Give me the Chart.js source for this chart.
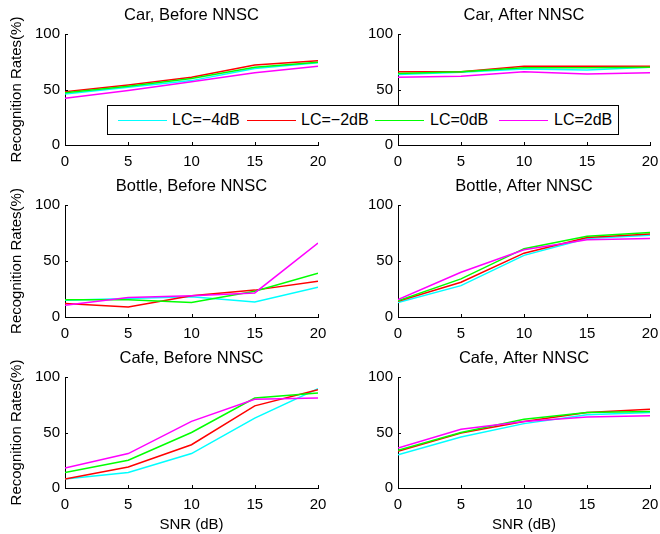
<!DOCTYPE html>
<html>
<head>
<meta charset="utf-8">
<script src="https://cdn.jsdelivr.net/npm/chart.js@4.4.0/dist/chart.umd.min.js"></script>
<style>
    body { margin: 0; background: #fff; }
    #wrap { position: relative; width: 660px; height: 534px; font-family: 'Liberation Sans', Arial, Helvetica, sans-serif; }
    canvas { position: absolute; }
    #legend { position: absolute; left: 107px; top: 105px; width: 510px; height: 28px; border: 1px solid #000; background: #fff; z-index: 5; }
    .swatch { position: absolute; top: 14px; width: 49px; height: 0; border-top: 1.5px solid; }
    .ltext { position: absolute; top: 4px; font-size: 16px; line-height: 20px; color: #000; white-space: nowrap; }
</style>
</head>
<body>
<div id="wrap">
    <canvas id="c0" width="330" height="170" style="left:0;top:0"></canvas>
    <canvas id="c1" width="330" height="170" style="left:330px;top:0"></canvas>
    <canvas id="c2" width="330" height="171" style="left:0;top:171px"></canvas>
    <canvas id="c3" width="330" height="171" style="left:330px;top:171px"></canvas>
    <canvas id="c4" width="330" height="191" style="left:0;top:343px"></canvas>
    <canvas id="c5" width="330" height="191" style="left:330px;top:343px"></canvas>
    <div id="legend"></div>
</div>
<script>
// SNR values on the x axis
const snr = [0, 5, 10, 15, 20];
const lcLabels = ['LC=\u22124dB', 'LC=\u22122dB', 'LC=0dB', 'LC=2dB'];
const yTicks = [0, 50, 100];

// Car
const carBeforeM4 = [46, 52, 58, 69, 74];
const carBeforeM2 = [48, 54, 61, 72, 76];
const carBefore0 = [47, 53, 60, 70, 74.5];
const carBefore2 = [42, 49, 57, 65, 71];

const carAfterM4 = [63.5, 65.5, 68.5, 67.5, 70];
const carAfterM2 = [66, 66, 71, 71, 71];
const carAfter0 = [64.5, 66, 69.5, 69.5, 70];
const carAfter2 = [61, 62, 66, 64, 65];

// Bottle
const bottleBeforeM4 = [15, 16.5, 18, 13.5, 26.5];
const bottleBeforeM2 = [12, 9, 19, 24, 32];
const bottleBefore0 = [15.5, 15.5, 13, 23, 39];
const bottleBefore2 = [10.5, 17.5, 19, 21.5, 66];

const bottleAfterM4 = [13, 28, 55, 70, 73];
const bottleAfterM2 = [14, 31, 57, 71, 74];
const bottleAfter0 = [14.5, 34, 61, 72, 75.5];
const bottleAfter2 = [15.5, 40, 60, 69, 70];

// Cafe
const cafeBeforeM4 = [8, 14, 31, 63, 89.5];
const cafeBeforeM2 = [8, 19, 39, 74, 88.5];
const cafeBefore0 = [14, 25, 50, 81, 85.5];
const cafeBefore2 = [18, 31, 60, 80, 81];

const cafeAfterM4 = [30, 46, 58, 66, 68];
const cafeAfterM2 = [33, 49.5, 60, 68, 71];
const cafeAfter0 = [34, 50, 62, 68, 69];
const cafeAfter2 = [36, 53, 60, 64, 65];

const lineColors = ['#00ffff', '#ff0000', '#00ff00', '#ff00ff'];
const FONT = "'Liberation Sans', Arial, Helvetica, sans-serif";

// MATLAB style inward tick marks + subplot title centred over the axes
const matlabAxes = {
    id: 'matlabAxes',
    afterDraw(chart, args, opts) {
        const ctx = chart.ctx;
        const area = chart.chartArea;
        const xs = chart.scales.x;
        const ys = chart.scales.y;
        ctx.save();
        ctx.strokeStyle = '#000';
        ctx.lineWidth = 1;
        ctx.beginPath();
        snr.forEach(v => {
            const px = Math.round(xs.getPixelForValue(v)) + 0.5;
            ctx.moveTo(px, area.bottom);
            ctx.lineTo(px, area.bottom - 3);
        });
        yTicks.forEach(v => {
            const py = Math.round(ys.getPixelForValue(v)) + 0.5;
            ctx.moveTo(area.left, py);
            ctx.lineTo(area.left + 3, py);
        });
        ctx.stroke();

        ctx.fillStyle = '#000';
        ctx.font = '16.5px ' + FONT;
        ctx.textAlign = 'center';
        ctx.textBaseline = 'middle';
        ctx.fillText(opts.text, (area.left + area.right) / 2, area.top - 18.5);
        ctx.restore();
    }
};

function makePanel(id, title, series, leftCol, bottomRow) {
    const xHeight = bottomRow ? 46 : 25;
    const yWidth = leftCol ? 65 : 68;
    new Chart(document.getElementById(id), {
        type: 'line',
        data: {
            datasets: series.map((vals, i) => ({
                label: lcLabels[i],
                data: vals.map((v, j) => ({ x: snr[j], y: v })),
                borderColor: lineColors[i],
                backgroundColor: lineColors[i],
                borderWidth: 1.5,
                pointRadius: 0,
                tension: 0,
                fill: false,
                order: 4 - i
            }))
        },
        options: {
            responsive: false,
            animation: false,
            layout: { padding: { left: 0, right: leftCol ? 12 : 10, top: 34, bottom: 0 } },
            plugins: {
                legend: { display: false },
                tooltip: { enabled: false },
                title: { display: false },
                matlabAxes: { text: title }
            },
            scales: {
                x: {
                    type: 'linear',
                    min: 0,
                    max: 20,
                    ticks: {
                        stepSize: 5,
                        padding: 8,
                        color: '#000',
                        maxRotation: 0,
                        autoSkip: false,
                        font: { family: FONT, size: 15 }
                    },
                    grid: { display: false, drawTicks: false },
                    border: { display: true, color: '#000', width: 1 },
                    title: {
                        display: bottomRow,
                        text: 'SNR (dB)',
                        color: '#000',
                        font: { family: FONT, size: 15 },
                        padding: { top: 0, bottom: 0 }
                    },
                    afterFit: s => {
                        s.height = xHeight;
                        s.paddingLeft = 0;
                        s.paddingRight = 0;
                    }
                },
                y: {
                    min: 0,
                    max: 100,
                    ticks: {
                        stepSize: 50,
                        padding: 5,
                        color: '#000',
                        font: { family: FONT, size: 15 }
                    },
                    grid: { display: false, drawTicks: false },
                    border: { display: true, color: '#000', width: 1 },
                    title: {
                        display: leftCol,
                        text: 'Recognition Rates(%)',
                        color: '#000',
                        font: { family: FONT, size: 15 },
                        padding: { top: 8, bottom: 0 }
                    },
                    afterFit: s => { s.width = yWidth; }
                }
            }
        },
        plugins: [matlabAxes]
    });
}

makePanel('c0', 'Car, Before NNSC', [carBeforeM4, carBeforeM2, carBefore0, carBefore2], true, false);
makePanel('c1', 'Car, After NNSC', [carAfterM4, carAfterM2, carAfter0, carAfter2], false, false);
makePanel('c2', 'Bottle, Before NNSC', [bottleBeforeM4, bottleBeforeM2, bottleBefore0, bottleBefore2], true, false);
makePanel('c3', 'Bottle, After NNSC', [bottleAfterM4, bottleAfterM2, bottleAfter0, bottleAfter2], false, false);
makePanel('c4', 'Cafe, Before NNSC', [cafeBeforeM4, cafeBeforeM2, cafeBefore0, cafeBefore2], true, true);
makePanel('c5', 'Cafe, After NNSC', [cafeAfterM4, cafeAfterM2, cafeAfter0, cafeAfter2], false, true);

// shared legend drawn over the top row
const legendEl = document.getElementById('legend');
const swatchLeft = [10, 139, 267, 391];
const textLeft = [64, 193, 322, 446];
lcLabels.forEach((label, i) => {
    const sw = document.createElement('div');
    sw.className = 'swatch';
    sw.style.left = swatchLeft[i] + 'px';
    sw.style.borderTopColor = lineColors[i];
    legendEl.appendChild(sw);
    const tx = document.createElement('div');
    tx.className = 'ltext';
    tx.style.left = textLeft[i] + 'px';
    tx.textContent = label;
    legendEl.appendChild(tx);
});
</script>
</body>
</html>
